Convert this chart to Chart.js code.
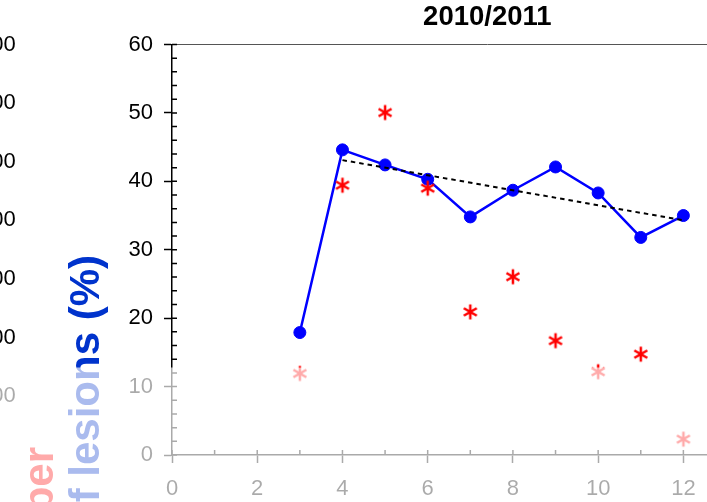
<!DOCTYPE html>
<html>
<head>
<meta charset="utf-8">
<script src="https://cdn.jsdelivr.net/npm/chart.js@4.4.1/dist/chart.umd.min.js"></script>
<style>
  html, body { margin: 0; padding: 0; background: #fff; overflow: hidden; }
  body { width: 707px; height: 502px; position: relative; }
  #chart { position: absolute; left: -21px; top: 0; }
</style>
</head>
<body>
<canvas id="chart" width="836" height="502"></canvas>
<script>
// data
const months = [3, 4, 5, 6, 7, 8, 9, 10, 11, 12];
const lesionPct = [17.9, 44.6, 42.4, 40.3, 34.8, 38.7, 42.1, 38.3, 31.8, 35.0];
const lesionNumber = [139, 460, 584, 455, 244, 304, 195, 142, 172, 27];
const trendX = [4, 12];
const trendPct = [43.1, 34.3];

const xTickLabels = [0, 2, 4, 6, 8, 10, 12];
const pctTickLabels = [0, 10, 20, 30, 40, 50, 60];
const numberTickLabels = [100, 200, 300, 400, 500, 600, 700];

const chartTitle = '2010/2011';
const numberTitle = 'Number';
const pctTitle = 'Percentage of lesions (%)';

const FONT = '"Liberation Sans", Arial, Helvetica, sans-serif';
Chart.defaults.font.family = FONT;
Chart.defaults.color = '#000';

function pairs(xs, ys) {
    return xs.map((x, i) => ({ x: x, y: ys[i] }));
}

// six-armed asterisk used for the "Number" series
function makeAsterisk(color) {
    const c = document.createElement('canvas');
    c.width = 20; c.height = 20;
    const g = c.getContext('2d');
    g.strokeStyle = color;
    g.lineWidth = 2.5;
    g.translate(10, 10);
    g.beginPath();
    for (let a = 0; a < 3; a++) {
        const t = Math.PI / 2 + a * Math.PI / 3;
        g.moveTo(Math.cos(t) * 7.5, Math.sin(t) * 7.5);
        g.lineTo(-Math.cos(t) * 7.5, -Math.sin(t) * 7.5);
    }
    g.stroke();
    return c;
}

const majorTick = (list) => (ctx) => list.includes(ctx.tick.value) ? '#000' : 'rgba(0,0,0,0)';

// inner tick marks, the two rotated axis titles, and the faded band at the bottom
const extrasPlugin = {
    id: 'extras',
    afterDraw(chart) {
        const ctx = chart.ctx;
        const area = chart.chartArea;
        const xs = chart.scales.x;
        const ys = chart.scales.y;

        ctx.save();
        ctx.strokeStyle = '#000';
        ctx.lineWidth = 1.5;
        ctx.beginPath();
        ys.ticks.forEach(t => {
            const py = ys.getPixelForValue(t.value);
            ctx.moveTo(area.left, py);
            ctx.lineTo(area.left + 5, py);
        });
        xs.ticks.forEach(t => {
            if (t.value > 12.5) return;
            const px = xs.getPixelForValue(t.value);
            ctx.moveTo(px, area.bottom);
            ctx.lineTo(px, area.bottom - 5);
        });
        ctx.stroke();

        ctx.font = 'bold 42px ' + FONT;
        ctx.textAlign = 'right';
        ctx.textBaseline = 'alphabetic';

        ctx.save();
        ctx.translate(74, 447);
        ctx.rotate(-Math.PI / 2);
        ctx.fillStyle = '#FF0000';
        ctx.fillText(numberTitle, 0, 0);
        ctx.restore();

        ctx.save();
        ctx.translate(119.5, 255);
        ctx.rotate(-Math.PI / 2);
        ctx.fillStyle = '#0033CC';
        ctx.fillText(pctTitle, 0, 0);
        ctx.restore();

        ctx.fillStyle = 'rgba(255,255,255,0.667)';
        ctx.fillRect(0, 367.5, chart.width, chart.height - 367.5);
        ctx.restore();
    }
};

new Chart(document.getElementById('chart'), {
    type: 'line',
    data: {
        datasets: [
            {
                label: numberTitle,
                data: pairs(months, lesionNumber),
                yAxisID: 'y2',
                showLine: false,
                pointStyle: makeAsterisk('#FF0000'),
                pointRadius: 7,
                order: 0
            },
            {
                label: 'trend',
                data: pairs(trendX, trendPct),
                yAxisID: 'y',
                borderColor: '#000',
                borderWidth: 2,
                borderDash: [4.5, 4],
                pointRadius: 0,
                fill: false,
                order: 1
            },
            {
                label: pctTitle,
                data: pairs(months, lesionPct),
                yAxisID: 'y',
                borderColor: '#0000FF',
                backgroundColor: '#0000FF',
                borderWidth: 2.5,
                pointRadius: 6,
                pointBorderWidth: 1,
                pointBackgroundColor: '#0000FF',
                pointBorderColor: '#0000FF',
                fill: false,
                order: 2
            }
        ]
    },
    options: {
        responsive: false,
        animation: false,
        devicePixelRatio: 1,
        layout: { padding: 0 },
        plugins: {
            legend: { display: false },
            tooltip: { enabled: false },
            title: {
                display: true,
                text: chartTitle,
                fullSize: false,
                color: '#000',
                font: { size: 27.5, weight: 'bold' },
                padding: { top: 1.3, bottom: 10.2 }
            }
        },
        scales: {
            x: {
                type: 'linear',
                position: 'bottom',
                min: 0,
                max: 14.8,
                grid: { drawOnChartArea: false, tickLength: 8, tickColor: majorTick(xTickLabels), tickWidth: 1.5 },
                border: { color: '#000', width: 1.5 },
                ticks: {
                    stepSize: 1,
                    autoSkip: false,
                    maxRotation: 0,
                    padding: 12.3,
                    font: { size: 22 },
                    color: '#000',
                    callback: v => xTickLabels.includes(v) ? String(v) : ''
                },
                afterFit: scale => { scale.height = 47; }
            },
            xTop: {
                type: 'linear',
                position: 'top',
                min: 0,
                max: 14.8,
                grid: { display: false, drawTicks: false },
                border: { display: true, color: '#555', width: 1 },
                ticks: { display: false }
            },
            y2: {
                type: 'linear',
                position: 'left',
                weight: 1,
                min: 0,
                max: 700,
                grid: { display: false, drawTicks: false },
                border: { display: false },
                ticks: {
                    stepSize: 100,
                    padding: 0,
                    crossAlign: 'far',
                    font: { size: 22 },
                    color: '#000',
                    callback: v => numberTickLabels.includes(v) ? String(v) : ''
                },
                afterFit: scale => { scale.width = 149.5; }
            },
            y: {
                type: 'linear',
                position: 'left',
                weight: 0,
                min: 0,
                max: 60,
                grid: { drawOnChartArea: false, tickLength: 8, tickColor: majorTick(pctTickLabels), tickWidth: 1.5 },
                border: { color: '#000', width: 1.5 },
                ticks: {
                    stepSize: 2,
                    autoSkip: false,
                    padding: 11,
                    font: { size: 22 },
                    color: '#000',
                    callback: v => pctTickLabels.includes(v) ? String(v) : ''
                },
                afterFit: scale => { scale.width = 43.5; }
            }
        }
    },
    plugins: [extrasPlugin]
});
</script>
</body>
</html>
